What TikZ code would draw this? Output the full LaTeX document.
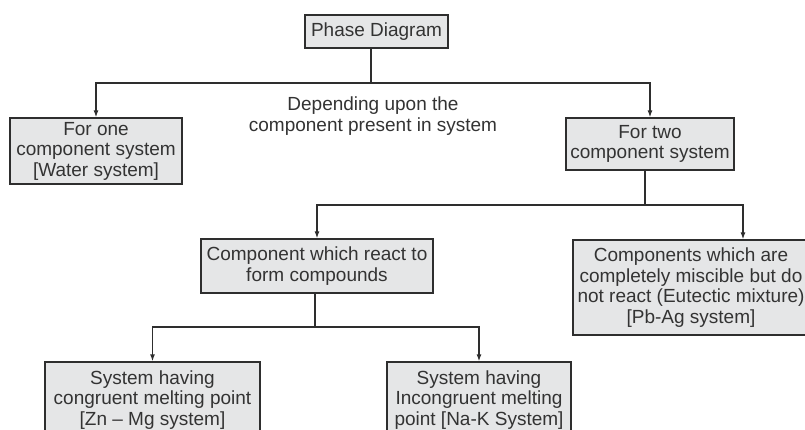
\documentclass[tikz,border=0pt]{standalone}
\usepackage{fontspec}
\setmainfont{Liberation Sans}
\usetikzlibrary{arrows.meta}
\definecolor{boxfill}{HTML}{E5E6E7}
\definecolor{linecol}{HTML}{2E2E2E}
\definecolor{txtcol}{HTML}{333333}
\tikzset{
  boxnode/.style={draw=linecol, fill=boxfill, line width=1.3pt, align=center,
    inner sep=2pt, text=txtcol, font=\fontsize{19}{20.5}\selectfont},
  plainnote/.style={align=center, inner sep=0pt, text=txtcol, font=\fontsize{19}{21.5}\selectfont},
  conn/.style={draw=linecol, line width=1.3pt},
  arr/.style={conn, -{Latex[length=7pt,width=5pt]}}
}
\begin{document}
\begin{tikzpicture}[x=1pt,y=-1pt]
\useasboundingbox (0,0) rectangle (805,430);
\clip (0,0) rectangle (805,430);
\fill[white] (0,0) rectangle (805,430);

\node[boxnode, minimum width=143pt, minimum height=33pt] (phase) at (376.5,31.5) {Phase Diagram};
\node[boxnode, minimum width=172pt, minimum height=66pt] (one) at (96,151) {For one\\component system\\{[}Water system{]}};
\node[boxnode, minimum width=168pt, minimum height=52pt] (two) at (650,144) {For two\\component system};
\node[plainnote] (dep) at (373,116) {Depending upon the\\component present in system};
\node[boxnode, minimum width=232pt, minimum height=54pt] (react) at (317,266) {Component which react to\\form compounds};
\node[boxnode, minimum width=236pt, minimum height=95pt] (misc) at (691,287.5) {Components which are\\completely miscible but do\\not react (Eutectic mixture)\\{[}Pb-Ag system{]}};
\node[boxnode, minimum width=215pt, minimum height=76pt] (cong) at (152.5,400) {System having\\congruent melting point\\{[}Zn -- Mg system{]}};
\node[boxnode, minimum width=184pt, minimum height=76pt] (incong) at (479,400) {System having\\Incongruent melting\\point {[}Na-K System{]}};

\coordinate (j1) at (371,83);
\coordinate (j2) at (645,205);
\coordinate (m1) at (743,205);
\coordinate (j3) at (315,327);

\draw[conn] (j1 |- phase.south) -- (j1);
\draw[arr] (j1) -| (one.north);
\draw[arr] (j1) -| (two.north);

\draw[conn] (j2 |- two.south) -- (j2);
\draw[arr] (j2) -| (react.north);
\draw[arr] (j2) -- (m1) -- (m1 |- misc.north);

\draw[conn] (j3 |- react.south) -- (j3);
\draw[arr] (j3) -| (cong.north);
\draw[arr] (j3) -| (incong.north);
\end{tikzpicture}
\end{document}
